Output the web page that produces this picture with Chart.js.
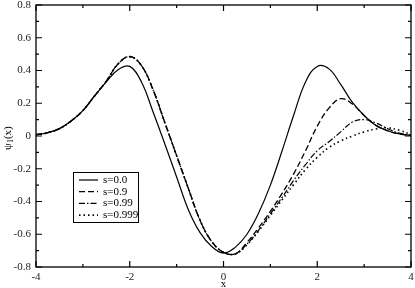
<!DOCTYPE html>
<html>
<head>
<meta charset="utf-8">
<script src="https://cdn.jsdelivr.net/npm/chart.js@4"></script>
<style>
  html, body { margin: 0; padding: 0; background: #fff; }
  #wrap { width: 415px; height: 288px; }
</style>
</head>
<body>
<div id="wrap"><canvas id="psiChart" width="415" height="288"></canvas></div>
<script>
// valores
const xs = [-4, -3.75, -3.5, -3.25, -3, -2.75, -2.5, -2.25, -2, -1.75, -1.5, -1.25, -1, -0.75, -0.5, -0.25,
  0, 0.25, 0.5, 0.75, 1, 1.25, 1.5, 1.75, 2, 2.25, 2.5, 2.75, 3, 3.25, 3.5, 3.75, 4];

const s00 = [0.008, 0.02, 0.045, 0.092, 0.155, 0.245, 0.33, 0.405, 0.425, 0.33, 0.145, -0.05, -0.25, -0.45, -0.59, -0.675,
  -0.715, -0.68, -0.6, -0.47, -0.3, -0.09, 0.13, 0.33, 0.425, 0.41, 0.315, 0.205, 0.125, 0.065, 0.032, 0.013, 0.004];

const s09 = [0.008, 0.02, 0.045, 0.092, 0.155, 0.245, 0.335, 0.44, 0.485, 0.43, 0.28, 0.08, -0.12, -0.32, -0.515, -0.645,
  -0.71, -0.72, -0.65, -0.56, -0.46, -0.35, -0.23, -0.09, 0.06, 0.17, 0.228, 0.195, 0.125, 0.065, 0.032, 0.013, 0.004];

const s099 = [0.008, 0.02, 0.045, 0.092, 0.155, 0.245, 0.335, 0.44, 0.485, 0.43, 0.28, 0.08, -0.12, -0.32, -0.515, -0.645,
  -0.71, -0.72, -0.66, -0.575, -0.475, -0.375, -0.27, -0.175, -0.09, -0.035, 0.025, 0.085, 0.1, 0.08, 0.045, 0.018, 0.005];

const s0999 = [0.008, 0.02, 0.045, 0.092, 0.155, 0.245, 0.335, 0.44, 0.485, 0.43, 0.28, 0.08, -0.12, -0.32, -0.515, -0.645,
  -0.71, -0.72, -0.665, -0.58, -0.485, -0.39, -0.295, -0.205, -0.13, -0.07, -0.03, 0, 0.025, 0.043, 0.05, 0.035, 0.01];

const seriesNames = ["s=0.0", "s=0.9", "s=0.99", "s=0.999"];
const xTickLabels = ["-4", "-2", "0", "2", "4"];
const yTickLabels = ["-0.8", "-0.6", "-0.4", "-0.2", "0", "0.2", "0.4", "0.6", "0.8"];

const estilos = [
  { dash: [], width: 1.2 },
  { dash: [6, 3], width: 1.3 },
  { dash: [6, 2, 1.5, 2], width: 1.2 },
  { dash: [1.5, 3], width: 1.6 }
];

function puntos(ys) {
  return xs.map((x, i) => ({ x: x, y: ys[i] }));
}

const fuente = "Liberation Serif";

// marco, marcas hacia dentro, titulos y leyenda
const marcoPlugin = {
  id: "marco",
  afterDraw(chart) {
    const ctx = chart.ctx;
    const a = chart.chartArea;
    const sx = chart.scales.x;
    const sy = chart.scales.y;
    ctx.save();
    ctx.strokeStyle = "#000";
    ctx.lineWidth = 1.3;
    ctx.setLineDash([]);
    ctx.strokeRect(a.left, a.top, a.right - a.left, a.bottom - a.top);

    ctx.lineWidth = 1.2;
    for (let v = -4; v <= 4; v += 1) {
      const px = sx.getPixelForValue(v);
      const len = (v % 2 === 0) ? 6 : 3;
      ctx.beginPath();
      ctx.moveTo(px, a.bottom); ctx.lineTo(px, a.bottom - len);
      ctx.moveTo(px, a.top); ctx.lineTo(px, a.top + len);
      ctx.stroke();
    }
    for (let k = -8; k <= 8; k++) {
      const py = sy.getPixelForValue(k / 10);
      const len = (k % 2 === 0) ? 6 : 3;
      ctx.beginPath();
      ctx.moveTo(a.left, py); ctx.lineTo(a.left + len, py);
      ctx.moveTo(a.right, py); ctx.lineTo(a.right - len, py);
      ctx.stroke();
    }

    // titulos de ejes
    ctx.fillStyle = "#000";
    ctx.font = "11px '" + fuente + "'";
    ctx.textAlign = "center";
    ctx.textBaseline = "middle";
    ctx.fillText("x", (a.left + a.right) / 2, 284);

    ctx.save();
    ctx.translate(8, 136);
    ctx.rotate(-Math.PI / 2);
    ctx.textAlign = "left";
    ctx.font = "11px '" + fuente + "'";
    const w1 = ctx.measureText("ψ").width;
    ctx.fillText("ψ", -14, 0);
    ctx.font = "8px '" + fuente + "'";
    ctx.fillText("1", -14 + w1, 3);
    ctx.font = "11px '" + fuente + "'";
    ctx.fillText("(x)", -14 + w1 + 4, 0);
    ctx.restore();

    // leyenda
    const lx = 73, ly = 172, lw = 65, lh = 50;
    ctx.fillStyle = "#fff";
    ctx.fillRect(lx, ly, lw, lh);
    ctx.lineWidth = 1;
    ctx.strokeStyle = "#000";
    ctx.strokeRect(lx + 0.5, ly + 0.5, lw, lh);
    chart.data.datasets.forEach((ds, i) => {
      const yy = ly + 8 + i * 11.7;
      ctx.beginPath();
      ctx.setLineDash(ds.borderDash || []);
      ctx.lineWidth = ds.borderWidth;
      ctx.moveTo(lx + 6, yy);
      ctx.lineTo(lx + 25, yy);
      ctx.stroke();
      ctx.setLineDash([]);
      ctx.fillStyle = "#000";
      ctx.font = "11px '" + fuente + "'";
      ctx.textAlign = "left";
      ctx.textBaseline = "middle";
      ctx.fillText(ds.label, lx + 30, yy);
    });
    ctx.restore();
  }
};

new Chart(document.getElementById("psiChart").getContext("2d"), {
  type: "line",
  data: {
    datasets: [s00, s09, s099, s0999].map((ys, i) => ({
      label: seriesNames[i],
      data: puntos(ys),
      borderColor: "#000",
      borderWidth: estilos[i].width,
      borderDash: estilos[i].dash,
      pointRadius: 0,
      fill: false,
      tension: 0.4
    }))
  },
  options: {
    responsive: false,
    animation: false,
    layout: { padding: 0 },
    plugins: {
      legend: { display: false },
      tooltip: { enabled: false }
    },
    scales: {
      x: {
        type: "linear",
        min: -4,
        max: 4,
        grid: { display: false, drawTicks: false },
        border: { display: false },
        ticks: {
          stepSize: 2,
          maxRotation: 0,
          padding: 4,
          color: "#222",
          font: { family: fuente, size: 11 },
          callback: (v) => xTickLabels[(v + 4) / 2]
        },
        afterFit: (scale) => {
          scale.height = 21;
          scale.paddingLeft = 0;
          scale.paddingRight = 4;
        }
      },
      y: {
        min: -0.8,
        max: 0.8,
        grid: { display: false, drawTicks: false },
        border: { display: false },
        ticks: {
          stepSize: 0.2,
          padding: 5,
          color: "#222",
          font: { family: fuente, size: 11 },
          callback: (v) => yTickLabels[Math.round((v + 0.8) / 0.2)]
        },
        afterFit: (scale) => {
          scale.width = 36;
          scale.paddingTop = 5;
          scale.paddingBottom = 0;
        }
      }
    }
  },
  plugins: [marcoPlugin]
});
</script>
</body>
</html>
